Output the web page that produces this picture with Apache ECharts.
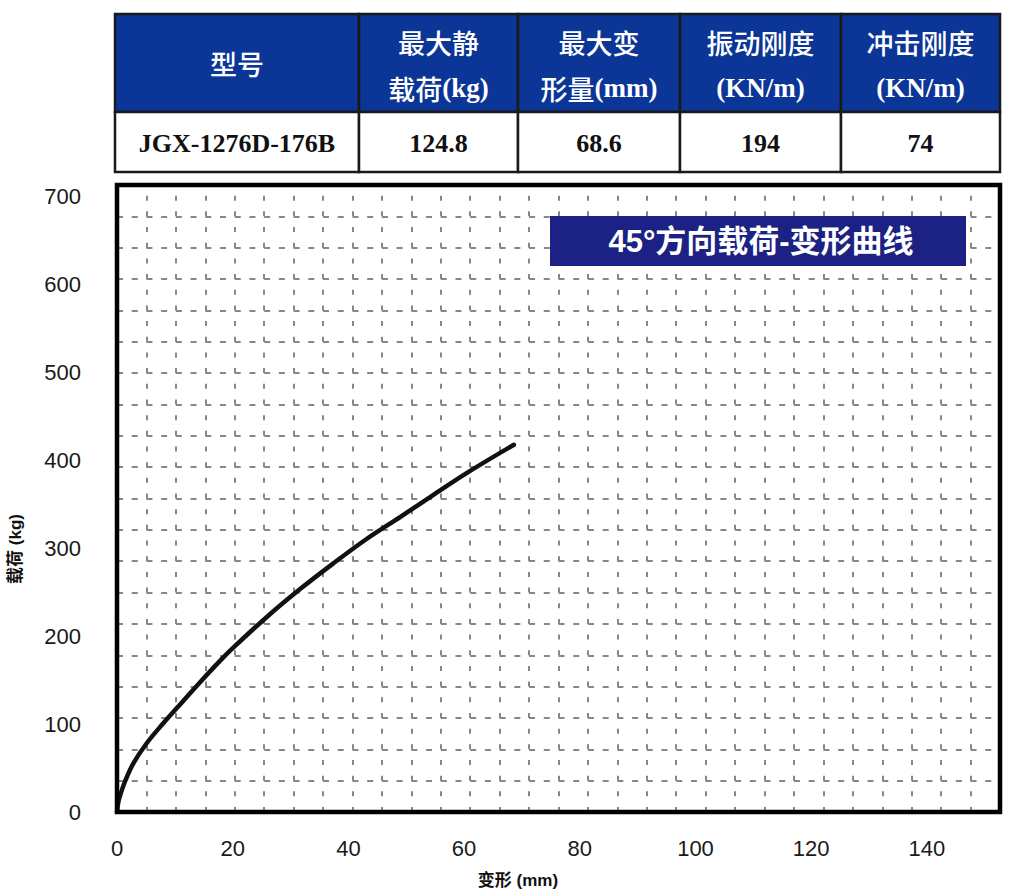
<!DOCTYPE html>
<html>
<head>
<meta charset="utf-8">
<script src="https://cdn.jsdelivr.net/npm/echarts@6/dist/echarts.min.js"></script>
<style>
html,body{margin:0;padding:0;background:#fff;}
#chart{width:1021px;height:895px;}
</style>
</head>
<body>
<div id="chart"></div>
<script>
// ---- data ----
const deformation = [0, 0.2, 0.5, 1.4, 2.8, 5.1, 8.0, 10.3, 14.4, 17.8, 20.1, 25.9, 31.7, 37.4, 43.2, 49.0, 54.7, 60.5, 68.6];
const load        = [0, 10, 18, 35, 55, 78, 101, 118, 148, 172, 187, 222, 254, 283, 311, 336, 361, 386, 418];
const xTickStep = 20;
const yTickStep = 100;
const xAxisName = '变形 (mm)';
const yAxisName = '载荷 (kg)';
const chartTitle = '45°方向载荷-变形曲线';
const tableHeaders = [['型号'], ['最大静', '载荷(kg)'], ['最大变', '形量(mm)'], ['振动刚度', '(KN/m)'], ['冲击刚度', '(KN/m)']];
const tableValues = ['JGX-1276D-176B', '124.8', '68.6', '194', '74'];

// ---- layout ----
const G = {left: 117, top: 185, width: 883, height: 627};
const colX = [115, 359, 518, 680, 841, 1000];
const tTop = 14, tMid = 112, tBot = 172;

function richRuns(str) {
  let out = '', buf = '', mode = null;
  for (const ch of str) {
    const m = ch.charCodeAt(0) < 256 ? 'l' : 'c';
    if (mode && m !== mode) { out += '{' + mode + '|' + buf + '}'; buf = ''; }
    mode = m; buf += ch;
  }
  if (buf) out += '{' + mode + '|' + buf + '}';
  return out;
}

const graphics = [];
for (let i = 0; i < 5; i++) {
  const x0 = colX[i], w = colX[i + 1] - colX[i];
  graphics.push({type: 'rect', z: 50, shape: {x: x0, y: tTop, width: w, height: tMid - tTop},
    style: {fill: '#0b3597', stroke: '#1a1a1a', lineWidth: 2.5}});
  graphics.push({type: 'rect', z: 50, shape: {x: x0, y: tMid, width: w, height: tBot - tMid},
    style: {fill: '#ffffff', stroke: '#1a1a1a', lineWidth: 2.5}});
  const cx = x0 + w / 2;
  const lines = tableHeaders[i];
  const ys = lines.length === 1 ? [63] : [42, 88];
  lines.forEach((ln, k) => {
    graphics.push({type: 'text', z: 60, x: cx, y: ys[k], style: {
      text: richRuns(ln), align: 'center', verticalAlign: 'middle',
      rich: {
        c: {fontFamily: 'Noto Sans CJK SC', fontSize: 27, fontWeight: 500, fill: '#ffffff'},
        l: {fontFamily: 'Liberation Serif', fontSize: 27, fontWeight: 'bold', fill: '#ffffff'}
      }
    }});
  });
  graphics.push({type: 'text', z: 60, x: cx, y: 143, style: {
    text: tableValues[i], align: 'center', verticalAlign: 'middle',
    fontFamily: 'Liberation Serif', fontSize: 26, fontWeight: 'bold', fill: '#111'
  }});
}
graphics.push({type: 'rect', z: 100, shape: {x: G.left, y: G.top, width: G.width, height: G.height},
  style: {fill: 'none', stroke: '#000', lineWidth: 4.5}});
graphics.push({type: 'rect', z: 100, shape: {x: 550, y: 216, width: 416, height: 50},
  style: {fill: '#1c2283'}});
graphics.push({type: 'text', z: 101, x: 761, y: 241, style: {
  text: chartTitle, align: 'center', verticalAlign: 'middle',
  fontFamily: 'Liberation Sans, Noto Sans CJK SC', fontSize: 31, fontWeight: 'bold', fill: '#ffffff'
}});
graphics.push({type: 'text', z: 100, x: 518, y: 880, style: {
  text: xAxisName, align: 'center', verticalAlign: 'middle',
  fontFamily: 'Liberation Sans, Noto Sans CJK SC', fontSize: 17, fontWeight: 'bold', fill: '#111'
}});
graphics.push({type: 'text', z: 100, x: 15, y: 549, rotation: Math.PI / 2, style: {
  text: yAxisName, align: 'center', verticalAlign: 'middle',
  fontFamily: 'Liberation Sans, Noto Sans CJK SC', fontSize: 17, fontWeight: 'bold', fill: '#111'
}});

const pxPerMm = 5.785, pxPerKg = 0.8786;
const xMax = G.width / pxPerMm;
const yMax = G.height / pxPerKg;

const gridLine = '#878787';
const option = {
  backgroundColor: '#fff',
  animation: false,
  grid: {left: G.left, top: G.top, width: G.width, height: G.height, show: false},
  xAxis: [
    {type: 'value', min: 0, max: xMax, interval: xTickStep, position: 'bottom',
      axisLine: {show: false}, axisTick: {show: false}, splitLine: {show: false},
      axisLabel: {showMaxLabel: false, margin: 25, fontSize: 22, color: '#1a1a1a', fontFamily: 'Liberation Sans'}},
    {type: 'value', min: 0, max: 30, interval: 1, position: 'top',
      axisLine: {show: false}, axisTick: {show: false}, axisLabel: {show: false},
      splitLine: {show: true, lineStyle: {color: gridLine, width: 2, type: [5, G.height / 40 - 5], dashOffset: 5}}}
  ],
  yAxis: [
    {type: 'value', min: 0, max: yMax, interval: yTickStep, position: 'left',
      axisLine: {show: false}, axisTick: {show: false}, splitLine: {show: false},
      axisLabel: {showMaxLabel: false, margin: 36, fontSize: 22, color: '#1a1a1a', fontFamily: 'Liberation Sans'}},
    {type: 'value', min: 0, max: 20, interval: 1, position: 'right',
      axisLine: {show: false}, axisTick: {show: false}, axisLabel: {show: false},
      splitLine: {show: true, lineStyle: {color: gridLine, width: 2, type: [6, G.width / 60 - 6], dashOffset: 0}}}
  ],
  series: [{
    type: 'line', xAxisIndex: 0, yAxisIndex: 0, z: 10,
    data: deformation.map((d, i) => [d, load[i]]),
    showSymbol: false, smooth: 0.35,
    lineStyle: {color: '#111', width: 4.5, cap: 'round'}
  }],
  graphic: graphics
};

const chart = echarts.init(document.getElementById('chart'), null, {renderer: 'svg'});
chart.setOption(option);
</script>
</body>
</html>
